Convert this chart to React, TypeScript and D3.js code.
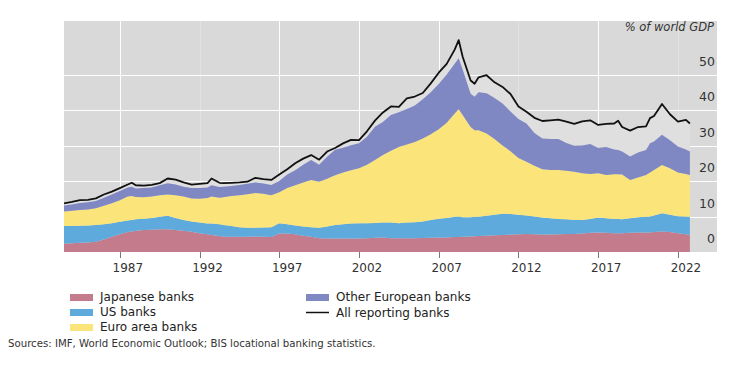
import { useEffect, useRef } from 'react';
import * as d3 from 'd3';

// decimal years (quarter / half-year points)
const dates = [
  1983.5, 1984, 1984.5, 1985, 1985.5, 1986, 1986.5, 1987, 1987.5, 1987.75,
  1988, 1988.5, 1989, 1989.5, 1990, 1990.5, 1991, 1991.5, 1992, 1992.5,
  1992.75, 1993.25, 1993.5, 1994, 1994.5, 1995, 1995.5, 1996, 1996.5, 1997,
  1997.5, 1998, 1998.5, 1999, 1999.5, 2000, 2000.5, 2001, 2001.5, 2002,
  2002.5, 2003, 2003.5, 2004, 2004.5, 2005, 2005.5, 2006, 2006.5, 2007,
  2007.5, 2008, 2008.25, 2008.5, 2009, 2009.25, 2009.5, 2010, 2010.5, 2011,
  2011.5, 2012, 2012.5, 2013, 2013.5, 2014, 2014.5, 2015, 2015.5, 2016,
  2016.5, 2017, 2017.5, 2018, 2018.25, 2018.5, 2019, 2019.5, 2020, 2020.25,
  2020.5, 2021, 2021.5, 2022, 2022.5, 2022.75,
];

const japanese = [
  2.4, 2.5, 2.6, 2.7, 2.9, 3.5, 4.3, 5.0, 5.6, 5.8,
  6.0, 6.2, 6.3, 6.4, 6.4, 6.2, 6.0, 5.7, 5.3, 5.0,
  4.8, 4.5, 4.3, 4.3, 4.3, 4.3, 4.4, 4.3, 4.2, 5.2,
  5.2, 5.0, 4.6, 4.3, 3.9, 3.8, 3.8, 3.8, 3.8, 3.8,
  3.9, 4.0, 4.1, 3.85, 3.85, 3.9, 3.9, 3.95, 4.0, 4.1,
  4.1, 4.2, 4.2, 4.3, 4.4, 4.45, 4.5, 4.6, 4.7, 4.8,
  4.9, 5.0, 5.1, 5.0, 4.9, 4.9, 5.0, 5.1, 5.1, 5.2,
  5.4, 5.5, 5.4, 5.3, 5.3, 5.25, 5.4, 5.5, 5.5, 5.5,
  5.6, 5.8, 5.6, 5.3, 5.0, 4.8,
];

const us = [
  4.9, 4.8, 4.8, 4.8, 4.7, 4.3, 3.8, 3.5, 3.3, 3.2,
  3.2, 3.2, 3.3, 3.5, 3.8, 3.4, 3.0, 2.9, 3.0, 3.0,
  3.2, 3.3, 3.3, 3.0, 2.7, 2.5, 2.4, 2.6, 2.8, 2.9,
  2.6, 2.5, 2.6, 2.7, 2.9, 3.4, 3.8, 4.0, 4.2, 4.3,
  4.2, 4.2, 4.2, 4.45, 4.25, 4.4, 4.5, 4.65, 5.0, 5.3,
  5.5, 5.7, 5.8, 5.5, 5.4, 5.45, 5.45, 5.6, 5.8, 6.0,
  5.8, 5.5, 5.2, 5.0, 4.8, 4.6, 4.3, 4.1, 3.9, 3.8,
  3.9, 4.2, 4.1, 4.0, 4.0, 3.95, 4.1, 4.3, 4.4, 4.5,
  4.7, 5.1, 4.9, 4.8, 5.0, 5.1,
];

const euroArea = [
  4.1, 4.3, 4.4, 4.5, 4.7, 5.2, 5.6, 6.1, 6.7, 6.8,
  6.3, 6.0, 6.0, 6.1, 6.0, 6.4, 6.6, 6.5, 6.7, 7.2,
  7.6, 7.5, 7.8, 8.5, 9.0, 9.5, 9.8, 9.5, 9.0, 8.7,
  10.2, 11.3, 12.4, 13.3, 13.0, 13.4, 14.0, 14.6, 15.0, 15.5,
  16.5, 17.7, 19.0, 20.2, 21.5, 22.0, 22.6, 23.4, 24.2, 25.2,
  26.8, 29.1, 30.2, 28.8, 25.4, 24.4, 24.35, 23.2, 21.3, 19.2,
  17.7, 16.0, 15.1, 14.3, 13.6, 13.6, 13.8, 13.7, 13.6, 13.2,
  12.7, 12.5, 12.2, 12.6, 12.6, 12.6, 10.8, 11.2, 11.8, 12.4,
  12.8, 13.6, 13.1, 12.3, 12.0, 11.8,
];

const otherEuropean = [
  1.7, 1.8, 2.0, 2.0, 2.1, 2.3, 2.5, 2.6, 2.6, 2.6,
  2.4, 2.6, 2.6, 2.8, 3.2, 3.0, 2.8, 2.9, 3.0, 3.0,
  3.2, 3.0, 3.0, 2.8, 2.9, 2.9, 3.0, 2.9, 2.9, 3.2,
  3.8, 4.2, 5.0, 5.6, 4.8, 6.2, 7.2, 7.0, 7.1, 7.0,
  7.9, 9.4, 9.3, 10.1, 9.8, 10.0, 10.3, 11.0, 11.8, 12.7,
  13.6, 14.0, 14.4, 12.8, 9.4, 9.4, 10.7, 11.3, 11.6, 11.8,
  11.2, 11.0, 10.8, 9.2, 8.7, 8.7, 8.7, 7.8, 7.3, 7.8,
  8.4, 7.1, 7.9, 7.0, 6.8, 6.5, 6.6, 7.0, 7.0, 8.2,
  8.0, 8.5, 7.9, 7.3, 6.9, 6.6,
];

const allReporting = [
  13.7, 14.1, 14.6, 14.7, 15.1, 16.2, 17.0, 18.0, 19.0, 19.5,
  18.8, 18.7, 18.9, 19.4, 20.7, 20.4, 19.6, 19.0, 19.2, 19.4,
  20.7, 19.5, 19.4, 19.5, 19.6, 19.8, 20.9, 20.5, 20.3, 21.8,
  23.3, 25.0, 26.3, 27.3, 26.0, 28.3, 29.3, 30.6, 31.6, 31.5,
  34.0, 37.0, 39.3, 41.0, 40.9, 43.3, 43.8, 44.8, 47.5, 50.5,
  53.0, 57.0, 59.7, 55.0, 48.3, 47.4, 49.2, 49.8, 47.8, 46.5,
  44.5, 41.0, 39.5, 37.8, 36.9, 37.1, 37.3, 36.7, 36.1, 36.8,
  37.1, 35.8, 36.1, 36.2, 37.0, 35.2, 34.2, 35.2, 35.4, 37.7,
  38.3, 41.7, 38.8, 36.7, 37.2, 36.2,
];

const keys = ['japanese', 'us', 'euroArea', 'otherEuropean'];
const seriesLabels = ['Japanese banks', 'US banks', 'Euro area banks', 'Other European banks'];
const lineLabel = 'All reporting banks';
const yearTicks = [1987, 1992, 1997, 2002, 2007, 2012, 2017, 2022];
const faintYears = [1992, 2012, 2022];
const valueTicks = [0, 10, 20, 30, 40, 50];
const unitLabel = '% of world GDP';
const sourceText = 'Sources: IMF, World Economic Outlook; BIS locational banking statistics.';

const colors = ['#c47c8c', '#5eaadd', '#fbe57a', '#7f88c3'];
const FONT = '"DejaVu Sans", sans-serif';

export default function App() {
  const svgRef = useRef(null);

  useEffect(() => {
    const svg = d3.select(svgRef.current);
    svg.selectAll('*').remove();

    const rows = dates.map((d, i) => ({
      date: d,
      japanese: japanese[i],
      us: us[i],
      euroArea: euroArea[i],
      otherEuropean: otherEuropean[i],
      all: allReporting[i],
    }));

    // plot box
    const left = 64;
    const right = 717;
    const top = 21;
    const bottom = 252;

    const x = d3.scaleLinear().domain([1983.5, 2024.45]).range([left, right]);
    const y = d3.scaleLinear().domain([0, 65]).range([bottom, bottom - 65 * 3.55]);

    svg
      .append('rect')
      .attr('x', left)
      .attr('y', top)
      .attr('width', right - left)
      .attr('height', bottom - top)
      .attr('fill', '#d9d9d9');

    // grid
    svg
      .append('g')
      .selectAll('line')
      .data(valueTicks.filter((v) => v > 0))
      .enter()
      .append('line')
      .attr('x1', left)
      .attr('x2', right)
      .attr('y1', (d) => Math.round(y(d)) + 0.5)
      .attr('y2', (d) => Math.round(y(d)) + 0.5)
      .attr('stroke', '#fff')
      .attr('stroke-width', 1);

    svg
      .append('g')
      .selectAll('line')
      .data(yearTicks)
      .enter()
      .append('line')
      .attr('x1', (d) => Math.round(x(d)) + 0.5)
      .attr('x2', (d) => Math.round(x(d)) + 0.5)
      .attr('y1', top)
      .attr('y2', bottom)
      .attr('stroke', '#fff')
      .attr('stroke-opacity', (d) => (faintYears.includes(d) ? 0.25 : 1))
      .attr('stroke-width', 1);

    const stack = d3.stack().keys(keys);
    const layers = stack(rows);

    const area = d3
      .area()
      .x((d) => x(d.data.date))
      .y0((d) => y(d[0]))
      .y1((d) => y(d[1]));

    // rest of reporting banks, faint band between stack top and total
    const topLayer = layers[layers.length - 1];
    const restArea = d3
      .area()
      .x((d, i) => x(rows[i].date))
      .y0((d, i) => y(topLayer[i][1]))
      .y1((d, i) => y(rows[i].all));

    svg.append('path').datum(rows).attr('d', restArea).attr('fill', '#dfdfe0');

    svg
      .append('g')
      .selectAll('path')
      .data(layers)
      .enter()
      .append('path')
      .attr('d', area)
      .attr('fill', (d, i) => colors[i]);

    const line = d3
      .line()
      .x((d) => x(d.date))
      .y((d) => y(d.all));

    svg
      .append('path')
      .datum(rows)
      .attr('d', line)
      .attr('fill', 'none')
      .attr('stroke', '#111')
      .attr('stroke-width', 1.8)
      .attr('stroke-linejoin', 'round');

    // x ticks + labels
    const xAxis = svg.append('g');
    xAxis
      .selectAll('line')
      .data(yearTicks)
      .enter()
      .append('line')
      .attr('x1', (d) => Math.round(x(d)) + 0.5)
      .attr('x2', (d) => Math.round(x(d)) + 0.5)
      .attr('y1', bottom)
      .attr('y2', bottom + 6)
      .attr('stroke', '#777');

    xAxis
      .selectAll('text')
      .data(yearTicks)
      .enter()
      .append('text')
      .attr('x', (d) => x(d + 0.5))
      .attr('y', 268)
      .attr('dy', '0.35em')
      .attr('text-anchor', 'middle')
      .style('font-family', FONT)
      .style('font-size', '12px')
      .style('fill', '#333')
      .text((d) => d);

    // right value labels, sitting above their grid lines
    svg
      .append('g')
      .selectAll('text')
      .data(valueTicks)
      .enter()
      .append('text')
      .attr('x', 715)
      .attr('y', (d) => y(d) - 13)
      .attr('dy', '0.35em')
      .attr('text-anchor', 'end')
      .style('font-family', FONT)
      .style('font-size', '12.5px')
      .style('fill', '#333')
      .text((d) => d);

    svg
      .append('text')
      .attr('x', 714)
      .attr('y', 27)
      .attr('dy', '0.35em')
      .attr('text-anchor', 'end')
      .style('font-family', FONT)
      .style('font-size', '11.5px')
      .style('font-style', 'italic')
      .style('fill', '#333')
      .text(unitLabel);

    // legend
    const legendPos = [
      [70, 297],
      [70, 312],
      [70, 327],
      [306, 297],
    ];
    const legend = svg.append('g');
    seriesLabels.forEach((label, i) => {
      const [lx, ly] = legendPos[i];
      legend
        .append('rect')
        .attr('x', lx)
        .attr('y', ly - 3)
        .attr('width', 23)
        .attr('height', 7)
        .attr('fill', colors[i]);
      legend
        .append('text')
        .attr('x', lx + 30)
        .attr('y', ly)
        .attr('dy', '0.35em')
        .style('font-family', FONT)
        .style('font-size', '12px')
        .style('fill', '#222')
        .text(label);
    });
    legend
      .append('line')
      .attr('x1', 306)
      .attr('x2', 329)
      .attr('y1', 312.5)
      .attr('y2', 312.5)
      .attr('stroke', '#111')
      .attr('stroke-width', 1.5);
    legend
      .append('text')
      .attr('x', 336)
      .attr('y', 313)
      .attr('dy', '0.35em')
      .style('font-family', FONT)
      .style('font-size', '12px')
      .style('fill', '#222')
      .text(lineLabel);

    svg
      .append('text')
      .attr('x', 8)
      .attr('y', 343)
      .attr('dy', '0.35em')
      .style('font-family', FONT)
      .style('font-size', '10.2px')
      .style('fill', '#333')
      .text(sourceText);
  }, []);

  return (
    <svg
      ref={svgRef}
      width={744}
      height={366}
      style={{ position: 'absolute', left: 0, top: 0, background: '#fff' }}
    />
  );
}
